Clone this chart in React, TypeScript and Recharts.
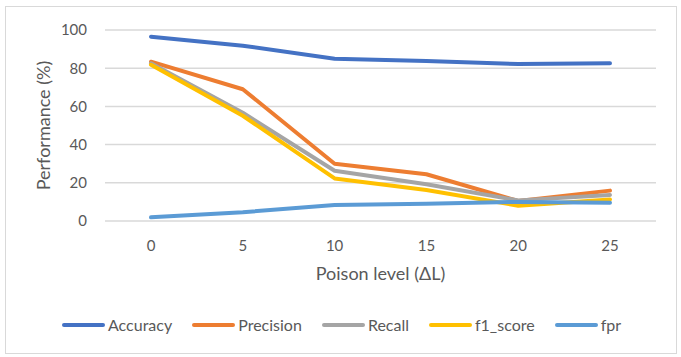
import React from 'react';
import { LineChart, Line, XAxis, YAxis, CartesianGrid, Legend } from 'recharts';

const poisonLevels = ['0', '5', '10', '15', '20', '25'];
const accuracy = [96.5, 91.8, 85.0, 83.8, 82.2, 82.6];
const precision = [83.4, 69.0, 30.0, 24.5, 10.5, 15.9];
const recall = [82.6, 56.7, 26.3, 19.2, 10.8, 13.6];
const f1Score = [81.8, 55.1, 22.3, 16.2, 8.0, 11.3];
const fpr = [1.9, 4.6, 8.4, 9.0, 10.0, 9.6];
const yTicks = [0, 20, 40, 60, 80, 100];

const seriesNames = ['Accuracy', 'Precision', 'Recall', 'f1_score', 'fpr'];
const seriesValues = [accuracy, precision, recall, f1Score, fpr];
const seriesColors = ['#4472C4', '#ED7D31', '#A5A5A5', '#FFC000', '#5B9BD5'];

const data = poisonLevels.map((level, i) => {
  const row: Record<string, string | number> = { level };
  seriesNames.forEach((name, s) => {
    row[name] = seriesValues[s][i];
  });
  return row;
});

const FONT = 'Lato, "Liberation Sans", sans-serif';
const TEXT = '#595959';

const renderLegend = (props: any) => {
  const { payload } = props;
  return (
    <div
      style={{
        display: 'flex',
        alignItems: 'center',
        height: 20,
        paddingLeft: 62,
        fontFamily: FONT,
        fontSize: 16,
        color: TEXT,
      }}
    >
      {(payload || []).map((entry: any, i: number) => (
        <div key={i} style={{ display: 'flex', alignItems: 'center', marginRight: 20 }}>
          <svg width={43} height={6} style={{ display: 'block' }}>
            <line x1={2} y1={3} x2={41} y2={3} stroke={entry.color} strokeWidth={4} strokeLinecap="round" />
          </svg>
          <span style={{ marginLeft: 3, lineHeight: '20px' }}>{entry.value}</span>
        </div>
      ))}
    </div>
  );
};

export default function App() {
  return (
    <div style={{ position: 'absolute', left: 0, top: 0, width: 681, height: 357, background: '#fff', fontFamily: FONT }}>
      <div
        style={{
          position: 'absolute',
          left: 5,
          top: 6,
          width: 670,
          height: 346,
          border: '1.5px solid #D9D9D9',
          pointerEvents: 'none',
        }}
      />
      <LineChart width={681} height={357} data={data} margin={{ top: 30, right: 25, bottom: 22, left: 0 }}>
        <CartesianGrid vertical={false} stroke="#D9D9D9" strokeWidth={1.5} />
        <XAxis
          dataKey="level"
          padding={{ left: 46, right: 46 }}
          axisLine={false}
          tickLine={false}
          tickSize={0}
          tickMargin={19}
          height={94}
          tick={{ fill: TEXT, fontSize: 15, fontFamily: FONT }}
          label={{ value: 'Poison level (ΔL)', position: 'insideBottom', offset: 35, fill: TEXT, fontSize: 18, fontFamily: FONT }}
        />
        <YAxis
          domain={[0, 100]}
          ticks={yTicks}
          axisLine={false}
          tickLine={false}
          tickSize={0}
          tickMargin={18}
          width={105}
          tick={{ fill: TEXT, fontSize: 15, fontFamily: FONT }}
          label={{
            value: 'Performance (%)',
            angle: -90,
            position: 'insideLeft',
            offset: 44,
            fill: TEXT,
            fontSize: 18,
            fontFamily: FONT,
            style: { textAnchor: 'middle' },
          }}
        />
        <Legend verticalAlign="bottom" content={renderLegend} wrapperStyle={{ left: 0, width: 681 }} />
        {seriesNames.map((name, s) => (
          <Line
            key={name}
            type="linear"
            dataKey={name}
            name={name}
            stroke={seriesColors[s]}
            strokeWidth={4}
            strokeLinecap="round"
            strokeLinejoin="round"
            dot={false}
            activeDot={false}
            isAnimationActive={false}
          />
        ))}
      </LineChart>
    </div>
  );
}
